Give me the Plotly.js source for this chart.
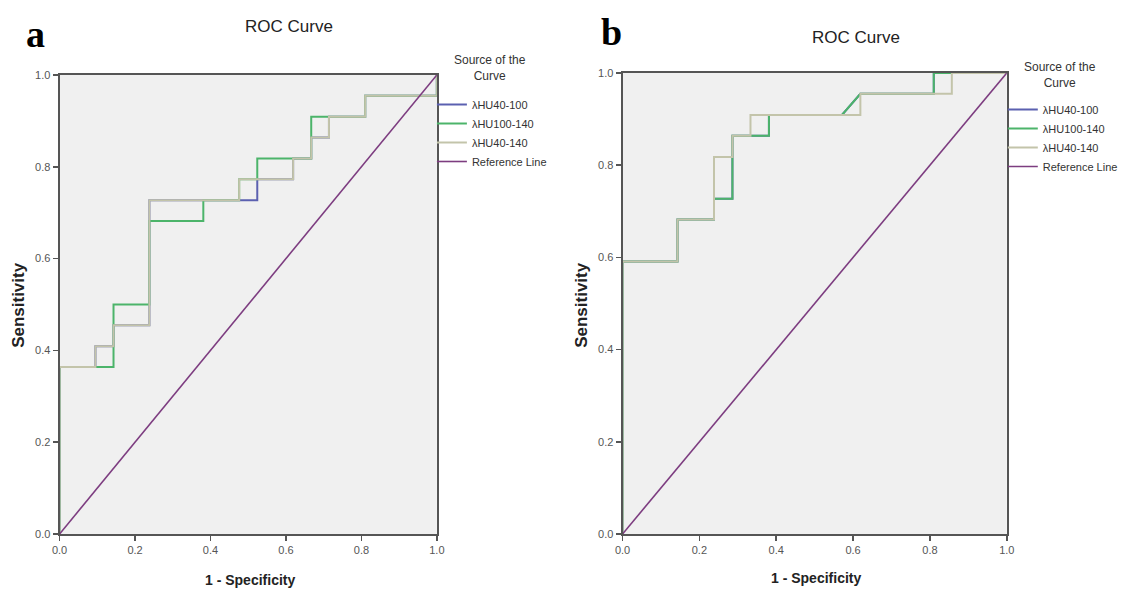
<!DOCTYPE html>
<html>
<head>
<meta charset="utf-8">
<script src="https://cdn.plot.ly/plotly-3.0.1.min.js"></script>
<style>html,body{margin:0;padding:0;background:#fff;}#chart{width:1123px;height:593px;}</style>
</head>
<body>
<div id="chart"></div>
<script>
// ---- Data ----
const seriesNames = ["λHU40-100", "λHU100-140", "λHU40-140", "Reference Line"];
const tickVals = [0, 0.2, 0.4, 0.6, 0.8, 1.0];

// Panel a
const aBlueX  = [0,0,0.095,0.095,0.143,0.143,0.238,0.238,0.524,0.524,0.619,0.619,0.667,0.667,0.714,0.714,0.810,0.810,1,1];
const aBlueY  = [0,0.364,0.364,0.409,0.409,0.455,0.455,0.727,0.727,0.773,0.773,0.818,0.818,0.864,0.864,0.909,0.909,0.955,0.955,1];
const aGreenX = [0,0,0.143,0.143,0.238,0.238,0.381,0.381,0.476,0.476,0.524,0.524,0.667,0.667,0.810,0.810,1,1];
const aGreenY = [0,0.364,0.364,0.5,0.5,0.682,0.682,0.727,0.727,0.773,0.773,0.818,0.818,0.909,0.909,0.955,0.955,1];
const aGrayX  = [0,0,0.095,0.095,0.143,0.143,0.238,0.238,0.476,0.476,0.619,0.619,0.667,0.667,0.714,0.714,0.810,0.810,1,1];
const aGrayY  = [0,0.364,0.364,0.409,0.409,0.455,0.455,0.727,0.727,0.773,0.773,0.818,0.818,0.864,0.864,0.909,0.909,0.955,0.955,1];

// Panel b
const bBlueX  = [0,0,0.143,0.143,0.238,0.238,0.286,0.286,0.381,0.381,0.571,0.619,0.810,0.810,1];
const bBlueY  = [0,0.591,0.591,0.682,0.682,0.727,0.727,0.864,0.864,0.909,0.909,0.955,0.955,1,1];
const bGreenX = [0,0,0.143,0.143,0.238,0.238,0.286,0.286,0.381,0.381,0.571,0.619,0.810,0.810,1];
const bGreenY = [0,0.591,0.591,0.682,0.682,0.727,0.727,0.864,0.864,0.909,0.909,0.955,0.955,1,1];
const bGrayX  = [0,0,0.143,0.143,0.238,0.238,0.286,0.286,0.333,0.333,0.619,0.619,0.857,0.857,1];
const bGrayY  = [0,0.591,0.591,0.682,0.682,0.818,0.818,0.864,0.864,0.909,0.909,0.955,0.955,1,1];

const refX = [0, 1];
const refY = [0, 1];

// ---- Styles ----
const colors = ["#5b60b0", "#4cb46a", "#c3c4aa", "#7d3d80"];
const W = 1123, H = 593;
const fx = p => p / W;
const fy = p => 1 - p / H;

function tr(x, y, i, xa, ya, leg) {
  return {x: x, y: y, type: "scatter", mode: "lines", name: seriesNames[i],
    xaxis: xa, yaxis: ya, legend: leg, showlegend: true,
    line: {color: colors[i], width: i === 3 ? 1.6 : 2}, hoverinfo: "skip"};
}

const traces = [
  tr(aBlueX, aBlueY, 0, "x", "y", "legend"),
  tr(aGreenX, aGreenY, 1, "x", "y", "legend"),
  tr(aGrayX, aGrayY, 2, "x", "y", "legend"),
  tr(refX, refY, 3, "x", "y", "legend"),
  tr(bBlueX, bBlueY, 0, "x2", "y2", "legend2"),
  tr(bGreenX, bGreenY, 1, "x2", "y2", "legend2"),
  tr(bGrayX, bGrayY, 2, "x2", "y2", "legend2"),
  tr(refX, refY, 3, "x2", "y2", "legend2")
];

const tickFont = {family: "Liberation Sans, Arial, sans-serif", size: 11, color: "#555"};
function ax(domain, anchor) {
  return {domain: domain, anchor: anchor, range: [0, 1], tickvals: tickVals, tickformat: ".1f",
    showgrid: false, zeroline: false, showline: true, linecolor: "#555", linewidth: 2, mirror: true,
    layer: "above traces",
    ticks: "outside", ticklen: 5, tickwidth: 1.5, tickcolor: "#555", tickfont: tickFont, fixedrange: true};
}

const legFont = {family: "Liberation Sans, Arial, sans-serif", size: 11, color: "#333"};
function leg(x, y) {
  return {x: x, y: y, xanchor: "left", yanchor: "top", bgcolor: "rgba(0,0,0,0)",
    font: legFont, itemwidth: 30, tracegroupgap: 0};
}

const titleFont = {family: "Liberation Sans, Arial, sans-serif", size: 17, color: "#222"};
const axTitleFont = {family: "Liberation Sans, Arial, sans-serif", size: 14, color: "#222"};
const yTitleFont = {family: "Liberation Sans, Arial, sans-serif", size: 17, color: "#222"};
const legTitleFont = {family: "Liberation Sans, Arial, sans-serif", size: 12, color: "#333"};
const labFont = {family: "Liberation Serif, Times New Roman, serif", size: 38, color: "#000"};

function ann(text, x, y, font, extra) {
  return Object.assign({text: text, x: fx(x), y: fy(y), xref: "paper", yref: "paper",
    showarrow: false, font: font, xanchor: "center", yanchor: "middle"}, extra || {});
}

const layout = {
  width: W, height: H,
  margin: {l: 0, r: 0, t: 0, b: 0},
  paper_bgcolor: "#fff",
  plot_bgcolor: "#f0f0f0",
  showlegend: true,
  xaxis: ax([fx(60), fx(440)], "y"),
  yaxis: ax([fy(534), fy(75)], "x"),
  xaxis2: ax([fx(627), fx(1014)], "y2"),
  yaxis2: ax([fy(534), fy(73)], "x2"),
  legend: leg(fx(435), fy(90)),
  legend2: leg(fx(1010), fy(95)),
  annotations: [
    ann("<b>a</b>", 36, 34, labFont),
    ann("<b>b</b>", 616, 32, labFont),
    ann("ROC Curve", 291, 27, titleFont),
    ann("ROC Curve", 862, 38, titleFont),
    ann("Source of the<br>Curve", 494, 68, legTitleFont),
    ann("Source of the<br>Curve", 1068, 75, legTitleFont),
    ann("<b>Sensitivity</b>", 18, 305, yTitleFont, {textangle: -90}),
    ann("<b>Sensitivity</b>", 585, 305, yTitleFont, {textangle: -90}),
    ann("<b>1 - Specificity</b>", 252, 580, axTitleFont),
    ann("<b>1 - Specificity</b>", 822, 578, axTitleFont)
  ]
};

Plotly.newPlot("chart", traces, layout, {staticPlot: true, displayModeBar: false});
</script>
</body>
</html>
